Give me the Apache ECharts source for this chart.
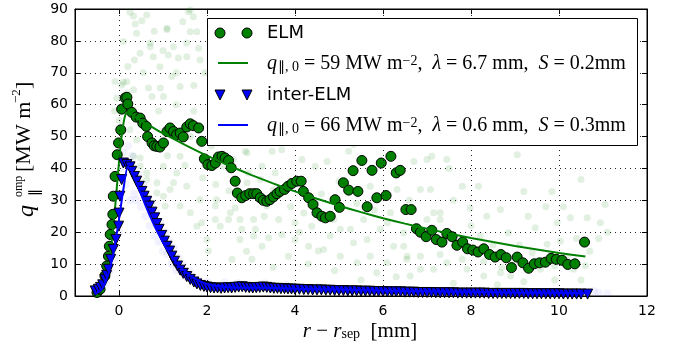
<!DOCTYPE html>
<html>
<head>
<meta charset="utf-8">
<script src="https://cdn.jsdelivr.net/npm/echarts@6/dist/echarts.min.js"></script>
<style>
  html, body { margin: 0; padding: 0; background: #fff; }
  #chart { width: 681px; height: 356px; }
</style>
</head>
<body>
<div id="chart"></div>
<script>
// tick values
const xTicks = [0, 2, 4, 6, 8, 10, 12];
const xGrid = [0, 2, 4, 6, 8, 10];

// ELM profile (green circles)
const elmPoints = [
  [-0.5,1.1],[-0.43,2.1],[-0.32,6.3],[-0.28,9.4],[-0.24,12.5],[-0.22,15.6],[-0.2,19.3],[-0.16,22.4],
  [-0.14,25.6],[-0.13,31.3],[-0.09,37.5],[-0.04,44.3],[-0.01,48.0],[0.04,52.1],[0.06,58.6],[0.14,62.1],
  [0.18,62.3],[0.2,60.2],[0.29,57.6],[0.39,56.1],[0.48,55.8],[0.54,54.2],[0.62,53.2],[0.65,50.0],
  [0.75,48.0],[0.8,47.1],[0.86,46.9],[0.93,46.7],[1.01,48.0],[1.09,51.6],[1.16,52.7],[1.24,51.6],
  [1.31,50.6],[1.39,51.1],[1.46,49.9],[1.54,53.0],[1.62,54.0],[1.69,53.4],[1.81,52.7],[1.88,48.5],
  [1.94,43.0],[2.02,41.2],[2.11,40.9],[2.19,41.7],[2.26,43.6],[2.34,43.8],[2.41,43.3],[2.49,42.5],
  [2.55,40.2],[2.64,36.0],[2.69,32.3],[2.79,30.8],[2.88,31.5],[2.97,32.1],[3.06,32.1],[3.13,32.1],
  [3.21,30.8],[3.28,30.0],[3.36,29.7],[3.43,30.2],[3.51,31.1],[3.59,32.1],[3.66,32.8],[3.76,33.4],
  [3.84,34.4],[3.93,35.3],[4.04,36.0],[4.14,36.0],[4.19,32.8],[4.31,30.8],[4.41,28.7],[4.5,26.1],
  [4.61,25.0],[4.69,24.5],[4.8,25.0],[4.91,30.2],[5.01,27.8],[5.1,35.5],[5.22,33.2],[5.32,39.3],
  [5.43,32.8],[5.52,42.5],[5.64,28.0],[5.75,39.4],[5.86,30.8],[5.96,41.7],[6.07,31.5],[6.18,43.8],
  [6.3,38.6],[6.39,39.4],[6.52,27.1],[6.64,27.1],[6.76,21.1],[6.85,20.0],[6.98,18.6],[7.11,20.6],
  [7.21,17.7],[7.34,16.9],[7.45,19.6],[7.57,18.6],[7.68,15.9],[7.81,16.9],[7.92,14.8],[8.04,14.4],
  [8.16,13.8],[8.29,14.8],[8.42,13.0],[8.55,12.2],[8.68,13.0],[8.8,12.0],[8.92,8.9],[9.05,12.2],
  [9.18,10.4],[9.31,8.7],[9.44,10.1],[9.56,10.4],[9.69,10.6],[9.82,11.8],[9.94,11.5],[10.07,11.2],
  [10.2,9.9],[10.36,10.1],[10.58,16.9]
];

// ELM fit line
const elmFit = [
  [-0.45,1],[-0.35,3],[-0.25,8],[-0.2,13],[-0.15,19],[-0.1,26],[-0.05,34],[0,42],[0.05,49],[0.1,54],
  [0.15,57],[0.2,57.6],[0.4,55.8],[0.6,54.2],[0.8,52.6],[1,51],[1.5,47.4],[2,44],[2.5,40.9],[3,38],
  [3.5,35.3],[4,32.8],[4.5,30.5],[5,28.3],[5.5,26.3],[6,24.4],[6.5,22.7],[7,21.1],[7.5,19.6],[8,18.2],
  [8.5,16.9],[9,15.7],[9.5,14.6],[10,13.5],[10.6,12.4]
];

// inter-ELM profile (blue triangles)
const interPoints = [
  [-0.54,1.6],[-0.47,2.1],[-0.42,2.7],[-0.37,3.5],[-0.32,5.2],[-0.28,6.5],[-0.24,8.4],[-0.19,11.5],
  [-0.13,14.6],[-0.07,17.7],[-0.01,21.9],[0.0,26],[0.02,31.3],[0.06,36.5],[0.1,41.7],[0.18,41.2],
  [0.25,40.5],[0.29,39.1],[0.35,37.5],[0.4,36],[0.46,34.4],[0.52,32.8],[0.57,31.3],[0.63,29.7],
  [0.69,28.2],[0.75,26.3],[0.81,24.5],[0.86,22.7],[0.91,20.9],[0.97,19],[1.03,17.2],[1.09,15.6],
  [1.15,14.1],[1.2,12.5],[1.26,10.9],[1.33,9.4],[1.39,8.1],[1.46,7.1],[1.54,6.1],[1.62,5.2],
  [1.7,4.4],[1.77,3.8],[1.85,3.3],[1.93,3.0],[2.0,2.8],[2.08,2.6],[2.16,2.5],[2.24,2.5],
  [2.32,2.4],[2.4,2.5],[2.48,2.6],[2.56,2.5],[2.64,2.7],[2.72,2.8],[2.8,2.9],[2.88,2.7],
  [2.96,2.6],[3.04,2.5],[3.12,2.6],[3.2,2.7],[3.28,2.8],[3.36,2.7],[3.44,2.5],[3.52,2.4],
  [3.6,2.4],[3.68,2.3],[3.76,2.3],[3.84,2.2],[3.92,2.2],[4.0,2.1],[4.1,2.1],[4.2,2.0],
  [4.3,2.0],[4.4,1.9],[4.5,1.9],[4.6,1.9],[4.7,1.8],[4.8,1.8],[4.9,1.7],[5.0,1.7],
  [5.1,1.7],[5.2,1.6],[5.3,1.6],[5.4,1.6],[5.5,1.5],[5.6,1.5],[5.7,1.5],[5.8,1.4],
  [5.9,1.4],[6.0,1.4],[6.1,1.3],[6.2,1.3],[6.3,1.3],[6.4,1.3],[6.5,1.2],[6.6,1.2],
  [6.7,1.2],[6.8,1.1],[6.9,1.1],[7.0,1.1],[7.1,1.1],[7.2,1.0],[7.3,1.0],[7.4,1.0],
  [7.5,1.0],[7.6,1.0],[7.7,0.9],[7.8,0.9],[7.9,0.9],[8.0,0.9],[8.1,0.9],[8.2,0.9],
  [8.3,0.9],[8.4,0.8],[8.5,0.8],[8.6,0.8],[8.7,0.8],[8.8,0.8],[8.9,0.8],[9.0,0.8],
  [9.1,0.8],[9.2,0.8],[9.3,0.7],[9.4,0.7],[9.5,0.7],[9.6,0.7],[9.7,0.7],[9.8,0.7],
  [9.9,0.7],[10.0,0.7],[10.1,0.6],[10.2,0.6],[10.3,0.6],[10.4,0.6],[10.5,0.6],[10.65,0.6]
];

// inter-ELM fit line
const interFit = [
  [-0.55,0.5],[-0.4,2],[-0.3,4.5],[-0.2,9],[-0.1,15.5],[0,24],[0.1,33.5],[0.2,40.5],[0.3,39],
  [0.4,35.5],[0.5,32],[0.6,28.5],[0.7,25.2],[0.8,22.2],[0.9,19.4],[1.0,16.8],[1.2,12.4],[1.4,9],
  [1.6,6.6],[1.8,4.9],[2.0,3.8],[2.3,3],[2.6,2.7],[3,2.6],[3.5,2.5],[4,2.3],[5,2.0],[6,1.7],
  [7,1.5],[8,1.3],[9,1.1],[10,1.0],[10.65,0.9]
];

// raw ELM samples (faint green cloud)
const elmRaw = [
  [-0.09,67.3],[0.1,67],[0.06,66.2],[0.18,63.6],[0.18,67.3],[0.33,64.7],[0.25,89],[0.33,87.8],[0.52,86.3],
  [0.37,85.3],[0.63,88.1],[0.1,79.8],[0.4,82.4],[0.71,79.3],[1.09,83.6],[0.48,76.1],[0.78,75],[1.12,75.6],
  [1.24,78.2],[0.93,71.9],[1.35,74.6],[1.54,75],[1.62,82.9],[1.58,89.1],[1.69,87.6],[1.81,77.7],[1.2,68.8],
  [0.67,65.2],[0.94,65.2],[1.39,65.7],[0.75,62.6],[1.77,82.9],[1.84,74],[1.01,62.6],[1.62,89.7],[1.09,84],
  [1.54,79.3],[0.71,78.2],[0.2,72],[0.35,74],[0.55,70],[0.8,83],[1.0,77],[1.45,86],[1.3,70],[1.7,66],
  [1.95,70],[-0.1,58],[0.0,55],[-0.05,62],
  [0.25,52.1],[0.4,49],[0.33,43.8],[0.48,40.7],[0.63,36.5],[0.86,32.3],[1.05,28.2],[1.24,35.5],[1.39,43.8],
  [1.62,50],[0.48,43.3],[0.63,38.6],[0.86,35.5],[1.01,31.3],[1.16,33.4],[1.39,28.2],[1.62,26.1],[1.84,30.2],
  [1.54,34.4],[1.31,38.6],[1.01,40.7],[1.77,21.9],[2,17.7],[2.3,21.9],[2.75,17.7],[3.06,18.8],[2.53,26.1],
  [2.22,30.2],[2.68,32.3],[2.91,35.5],[3.21,36.5],[3.51,33.4],[3.36,28.2],[3.06,24],[2.75,24],[2.37,40.7],
  [2.6,42.8],[2.91,44.9],[3.21,48],[3.36,51.1],[3.59,55.3],
  [1.88,23],[2.19,24],[2.49,24],[2.79,20.9],[3.1,20.9],[3.4,18.3],[3.7,19.3],[4,17.7],[4.31,15.6],[4.53,14.1],
  [2.19,28.2],[2.64,27.6],[3.25,15.6],[3.63,24],[4,23],[4.38,21.9],[4.46,29.2],[2.94,38.6],[3.25,40.7],
  [3.55,38.6],[3.7,45.9],[3.48,45.4],[2.87,45.4],[4.16,42.8],[4.46,40.7],[2.57,11.5],[2.03,14.1],[3.02,11.5],
  [3.85,12.5],
  [4.73,42.2],[5.22,45.4],[5.33,47.5],[6.7,42.2],[6.85,33.4],[7.15,26.1],[7.3,24],[4.8,18.8],[5.03,20.9],
  [5.33,16.7],[5.64,17.7],[5.94,20.9],[6.24,15.6],[6.55,12.5],[6.85,8.4],[6.09,10.4],[5.71,12.5],[5.41,10.4],
  [5.03,12.5],[4.65,14.6],[4.88,24],[5.56,24],[6.17,26.1],[6.47,19.8],[5.71,34.4],[6.32,33.4],[7.08,33.4],
  [6.62,6.3],[5.86,7.3],[5.26,20.9],
  [7.0,42.8],[7.11,43.8],[7.45,42.8],[7.5,40],[7.8,34.4],[8.17,34.4],[7.98,27.6],[8.36,25],[8.67,27.1],
  [9.05,44.3],[9.2,32.8],[9.46,21.4],[9.84,32.8],[10.5,36.5],[10.64,24.5],[10.94,23],[11.05,28.7],[10.26,24.5],
  [10.03,17.2],[9.73,16.2],[9.39,13.6],[8.97,10.4],[8.67,7.3],[8.29,6.3],[7.91,8.4],[7.45,10.4],[7.15,8.4],
  [6.85,12.5],[8.29,10.9],[8.9,6.3],[9.58,8.4],[10.33,8.4],[10.18,12.5],[9.96,23],[8.85,19.8],[8.21,18.8],
  [7.23,17.7],[7.3,26.1],[7.0,24],[6.47,15.6],[6.54,11.5],
  [0.9,58],[1.3,60],[1.7,58],[2.1,56],[2.4,52],[2.7,50],[3.0,53],[1.1,44],[1.5,41],[1.9,37],[2.2,35],
  [2.5,33],[2.1,47],[4.2,26],[4.6,32],[5.0,36],[5.4,29],[5.8,27],[6.1,23],[6.6,30],[7.6,30],[8.0,22],
  [8.5,16],[9.1,16],[9.3,25],[9.7,28],[10.1,28],[10.4,18],[10.7,14],[10.9,18],[3.9,28],[4.1,20],[3.3,25],
  [2.9,14],[3.5,9],[4.3,10],[4.9,8],[5.5,5],[6.3,6],[7.6,4],[8.6,3.5],[9.2,4.5],[9.9,5],[10.5,5],[7.3,13],
  [7.8,11.5],[8.7,9],[9.9,9.5],[10.6,9.5],[11.1,20]
];

// raw inter-ELM samples (faint blue cloud)
const interRaw = [
  [0.1,45],[0.2,47],[0.05,40],[0.3,44],[0.4,30],[0.5,28],[0.6,25],[0.7,22],[0.8,19],[0.9,17],[1.0,14],
  [1.1,13],[1.2,10],[1.3,8],[1.5,6],[0.35,32],[0.45,38],[0.55,35],[0.65,31],[0.75,29],[0.85,26],[0.95,23],
  [1.05,20],[1.15,17],[1.25,15],[1.35,12],[1.45,10],[1.6,8],[1.8,5],[2.0,4.5],[2.4,4.2],[2.7,4],[3.3,4],
  [3.8,3.5],[4.5,3],[-0.1,12],[-0.2,8],[-0.3,4],[0.0,20],[0.15,35],[0.25,30],[10.9,1],[11.1,0.8],[10.8,1.5]
];

const chart = echarts.init(document.getElementById('chart'));

const gridLine = { color: '#222', type: [1, 4], width: 1 };

const axisCommon = {
  type: 'value',
  axisLine: { show: true, onZero: false, lineStyle: { color: '#000', width: 1 } },
  axisTick: { show: true, inside: true, length: 5, lineStyle: { color: '#000' } },
};

const serif = 'Liberation Serif';
const mathRich = {
  n: { fontFamily: serif, fontSize: 20, color: '#000' },
  i: { fontFamily: serif, fontSize: 20, fontStyle: 'italic', color: '#000' },
  s: { fontFamily: serif, fontSize: 14, color: '#000', verticalAlign: 'bottom', padding: [0, 0, 0, 1] },
  p: { fontFamily: serif, fontSize: 14, color: '#000', verticalAlign: 'top' }
};

function tri(cx, cy) {
  return [[cx - 5, cy - 5], [cx + 5, cy - 5], [cx, cy + 5]];
}

const option = {
  animation: false,
  backgroundColor: '#fff',
  grid: { left: 75, right: 34, top: 9, bottom: 60, show: true, borderColor: '#000', borderWidth: 1 },
  xAxis: [
    Object.assign({}, axisCommon, {
      min: -1, max: 12, position: 'bottom',
      axisTick: { show: true, inside: true, length: 5, customValues: xTicks, lineStyle: { color: '#000' } },
      axisLabel: { customValues: xTicks, color: '#000', fontFamily: 'DejaVu Sans', fontSize: 14, margin: 8 },
      splitLine: { show: false }
    }),
    Object.assign({}, axisCommon, {
      min: -1, max: 12, position: 'top',
      axisTick: { show: true, inside: true, length: 5, customValues: xTicks, lineStyle: { color: '#000' } },
      axisLabel: { show: false },
      splitLine: { show: false }
    })
  ],
  yAxis: [
    Object.assign({}, axisCommon, {
      min: 0, max: 90, interval: 10, position: 'left',
      axisLabel: { color: '#000', fontFamily: 'DejaVu Sans', fontSize: 14, margin: 7 },
      splitLine: { show: true, lineStyle: gridLine }
    }),
    Object.assign({}, axisCommon, {
      min: 0, max: 90, interval: 10, position: 'right',
      axisLabel: { show: false },
      splitLine: { show: false }
    })
  ],
  series: [
    {
      name: 'ELM raw', type: 'scatter', data: elmRaw, symbolSize: 7, silent: true, z: 1,
      itemStyle: { color: 'rgba(0,128,0,0.15)' },
      markLine: {
        silent: true, symbol: ['none', 'none'], label: { show: false },
        lineStyle: gridLine, emphasis: { disabled: true },
        data: xGrid.map(v => ({ xAxis: v }))
      }
    },
    {
      name: 'inter-ELM raw', type: 'scatter', data: interRaw, symbolSize: 8, silent: true, z: 1,
      itemStyle: { color: 'rgba(60,60,255,0.09)' }
    },
    {
      name: 'ELM', type: 'scatter', data: elmPoints, symbol: 'circle', symbolSize: 10, z: 3,
      itemStyle: { color: '#008000', borderColor: '#000', borderWidth: 1, opacity: 1 }
    },
    {
      name: 'ELM fit', type: 'line', data: elmFit, showSymbol: false, smooth: 0.2, z: 4,
      lineStyle: { color: '#008000', width: 2 }
    },
    {
      name: 'inter-ELM', type: 'scatter', data: interPoints, symbol: 'triangle', symbolRotate: 180,
      symbolSize: [10, 10], z: 5,
      itemStyle: { color: '#0000ff', borderColor: '#000', borderWidth: 1, opacity: 1 }
    },
    {
      name: 'inter-ELM fit', type: 'line', data: interFit, showSymbol: false, smooth: 0.2, z: 6,
      lineStyle: { color: '#0000ff', width: 2 }
    }
  ],
  graphic: [
    // legend box
    { type: 'rect', z: 100, shape: { x: 207.5, y: 18.5, width: 430, height: 127 },
      style: { fill: '#fff', stroke: '#000', lineWidth: 1 } },
    { type: 'circle', z: 101, shape: { cx: 220, cy: 33, r: 5 }, style: { fill: '#008000', stroke: '#000', lineWidth: 1 } },
    { type: 'circle', z: 101, shape: { cx: 247, cy: 33, r: 5 }, style: { fill: '#008000', stroke: '#000', lineWidth: 1 } },
    { type: 'line', z: 101, shape: { x1: 218, y1: 63, x2: 248, y2: 63 }, style: { stroke: '#008000', lineWidth: 2 } },
    { type: 'polygon', z: 101, shape: { points: tri(220, 95) }, style: { fill: '#0000ff', stroke: '#000', lineWidth: 1 } },
    { type: 'polygon', z: 101, shape: { points: tri(247, 95) }, style: { fill: '#0000ff', stroke: '#000', lineWidth: 1 } },
    { type: 'line', z: 101, shape: { x1: 218, y1: 125, x2: 248, y2: 125 }, style: { stroke: '#0000ff', lineWidth: 2 } },
    { type: 'text', z: 101, x: 267, y: 33, style: { text: 'ELM', fontFamily: 'DejaVu Sans', fontSize: 18, fill: '#000', verticalAlign: 'middle' } },
    { type: 'text', z: 101, x: 267, y: 95, style: { text: 'inter-ELM', fontFamily: 'DejaVu Sans', fontSize: 18, fill: '#000', verticalAlign: 'middle' } },
    { type: 'text', z: 101, x: 267, y: 64, style: {
        text: '{i|q}{s|∥, 0}{n| = 59 MW m}{p|−2}{n|,  }{i|λ}{n| = 6.7 mm,  }{i|S}{n| = 0.2mm}',
        rich: mathRich, verticalAlign: 'middle' } },
    { type: 'text', z: 101, x: 267, y: 126, style: {
        text: '{i|q}{s|∥, 0}{n| = 66 MW m}{p|−2}{n|,  }{i|λ}{n| = 0.6 mm,  }{i|S}{n| = 0.3mm}',
        rich: mathRich, verticalAlign: 'middle' } },
    // x axis title
    { type: 'text', x: 360, y: 331, style: {
        text: '{i|r}{n| − }{i|r}{s|sep}{n|  [mm]}', rich: {
          n: { fontFamily: serif, fontSize: 21, color: '#000' },
          i: { fontFamily: serif, fontSize: 21, fontStyle: 'italic', color: '#000' },
          s: { fontFamily: serif, fontSize: 14, color: '#000', verticalAlign: 'bottom' }
        }, align: 'center', verticalAlign: 'middle' } },
    // y axis title, rotated
    { type: 'group', x: 24, y: 217, rotation: Math.PI / 2, children: [
        { type: 'text', x: 0, y: 3, style: { text: 'q', fontFamily: serif, fontSize: 24, fontStyle: 'italic', fill: '#000', verticalAlign: 'middle' } },
        { type: 'text', x: 20, y: -5, style: { text: 'omp', fontFamily: serif, fontSize: 12, fill: '#000', verticalAlign: 'middle' } },
        { type: 'text', x: 21, y: 11, style: { text: '∥', fontFamily: serif, fontSize: 14, fill: '#000', verticalAlign: 'middle' } },
        { type: 'text', x: 45, y: 0, style: { text: '[MW m', fontFamily: serif, fontSize: 22, fill: '#000', verticalAlign: 'middle' } },
        { type: 'text', x: 114, y: -7, style: { text: '−2', fontFamily: serif, fontSize: 13, fill: '#000', verticalAlign: 'middle' } },
        { type: 'text', x: 128, y: 0, style: { text: ']', fontFamily: serif, fontSize: 22, fill: '#000', verticalAlign: 'middle' } }
    ] }
  ]
};

chart.setOption(option);
</script>
</body>
</html>
